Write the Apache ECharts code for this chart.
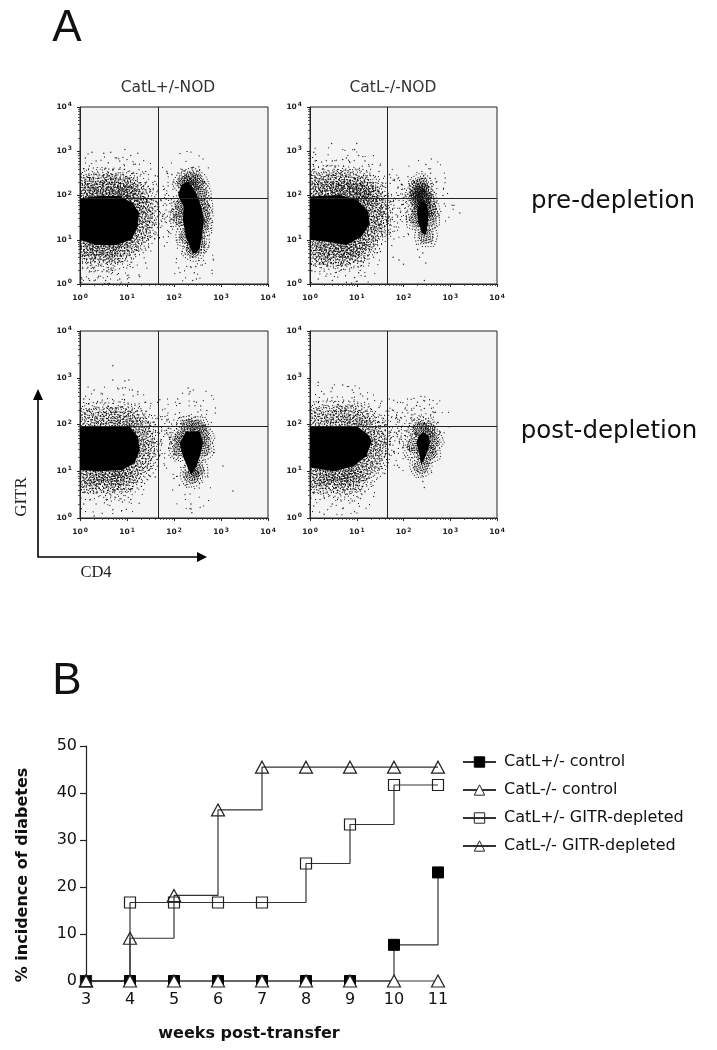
<!DOCTYPE html>
<html><head><meta charset="utf-8">
<style>html,body{margin:0;padding:0;background:#fff}#c{width:717px;height:1050px}</style>
<script src="https://cdn.jsdelivr.net/npm/echarts@6/dist/echarts.min.js"></script></head>
<body><div id="c"></div>
<script>
// ---------- Panel B values ----------
const weeks = [3,4,5,6,7,8,9,10,11];
const catLHetControl = [0,0,0,0,0,0,0,7.7,23.1];
const catLKoControl  = [0,0,0,0,0,0,0,0,0];
const catLHetDepleted = [0,16.7,16.7,16.7,16.7,25,33.3,41.7,41.7];
const catLKoDepleted  = [0,9.1,18.2,36.4,45.5,45.5,45.5,45.5,45.5];
const seriesNames = ['CatL+/- control','CatL-/- control','CatL+/- GITR-depleted','CatL-/- GITR-depleted'];
const panelTitles = ['CatL+/-NOD','CatL-/-NOD'];
const gateX = [46,46,46,46];
const gateY = [88,88,92,92];

// ---------- Panel A flow-cytometry clouds, [CD4, GITR], estimated by eye ----------
// Core: outline of the solid black area of the CD4- population. Cd4: same for the CD4+ population.
const p1Core = [[1,87],[2.6,98],[6.9,98],[13.4,67],[18,40],[17,20],[12.4,10],[5.9,7.6],[2.2,7.6],[1,10]];
const p1Cd4 = [[199,208],[299,113],[380,56],[427,28],[398,11.7],[354,6.5],[299,5],[251,5],[224,6.5],[178,11.7],[155,28],[160,56],[122,103],[144,174]];
const p1Dense = [[1.2,150],[2.2,170],[4,170],[7,160],[12,130],[1.3,100],[3,110],[6,110],[11,95],[17,70],[20,45],[22,28],[18,15],[12,10],[7,8],[4,8],[2,8],[1.2,8],[1.3,5.5],[3,5],[6,5.5]];
const p1DenseCd4 = [[170,190],[230,230],[300,200],[350,110],[380,60],[400,35],[370,20],[150,60],[140,30],[190,12],[330,9],[260,6]];
const p1Sparse = [[1.5,300],[4,280],[8,270],[15,230],[30,200],[30,70],[50,60],[80,50],[110,80],[40,30],[80,25],[30,15],[200,350],[2,3],[5,2.7],[10,3],[1.5,1.8],[4,1.6],[270,3.5],[270,2.4]];
const p1Dots = [[1.3,700],[1.8,950],[3.2,900],[4.5,950],[6,700],[9,1100],[12,800],[17,900],[2.2,600],[4,550],[7,600],[1.2,400],[14,500],[25,350],[40,280],[70,350],[90,300],[150,380],[250,430],[350,380],[450,200],[500,120],[550,60],[600,30],[600,18],[1.1,1.3],[1.6,1.2],[2.5,1.5],[3.5,1.2],[7,1.3],[11,1.4],[18,1.6],[25,3],[250,1.2],[300,1.3],[270,1.8],[290,2.5]];

const p2Core = [[1,95],[4.4,103],[10,80],[17.6,44],[19,23],[12.7,11.8],[6,7.6],[2.3,9],[1,10]];
const p2Cd4 = [[230,75],[310,65],[340,40],[330,22],[300,13],[250,14],[205,25],[195,45]];
const p2Dense = [[1.2,170],[2.2,190],[4,200],[7,180],[12,150],[17,110],[1.3,100],[3,110],[6,110],[11,100],[20,80],[24,50],[25,30],[22,18],[15,11],[9,8],[5,7],[2.5,7],[1.2,7],[1.3,5],[3,4.5],[6,5],[11,6]];
const p2DenseCd4 = [[200,110],[250,130],[200,80],[280,90],[230,170],[350,50],[340,30],[190,30],[300,12],[260,60]];
const p2Sparse = [[1.3,400],[3,450],[8,400],[15,300],[30,180],[45,90],[70,80],[100,90],[140,70],[40,40],[70,30],[120,35],[1.5,2.5],[5,2.3],[12,3],[30,15],[350,100],[450,60],[300,250]];
const p2Dots = [[1.2,950],[1.3,600],[2.9,1500],[3,600],[5,650],[6,700],[9,1100],[10,1500],[11,800],[15,600],[30,350],[50,300],[60,220],[90,180],[300,500],[350,400],[380,320],[500,200],[700,100],[1100,60],[1600,40],[60,4],[80,3.5],[100,2.8],[200,6],[220,4],[260,5],[300,3],[280,1.2],[1.5,1.3],[3,1.2],[6,1.1],[9,1.4],[11,1.8],[15,1.5],[1.1,2]];

const p3Core = [[1,88],[11.4,91],[17,55],[18.6,29],[14.6,15],[8.2,10.8],[2.6,10],[1,10.8]];
const p3Cd4 = [[182,71],[355,71],[415,40],[355,21],[299,12.6],[234,8.4],[198,11.7],[155,21],[132,40]];
const p3Dense = [[1.2,115],[2.2,125],[4,130],[7,130],[11,110],[17,80],[21,50],[22,28],[18,15],[12,10],[7,9],[4,9],[2,9],[1.2,9],[1.4,6],[4,6],[8,6]];
const p3DenseCd4 = [[150,50],[140,30],[400,55],[400,30],[300,11],[240,8],[200,90],[320,85]];
const p3Sparse = [[1.5,230],[4,250],[9,240],[15,170],[30,100],[40,60],[60,50],[90,45],[40,30],[130,120],[60,130],[300,220],[1.5,3.5],[5,3],[9,3.5],[150,20],[240,4]];
const p3Dots = [[5,1800],[5,900],[9,850],[11,900],[8,600],[13,550],[17,500],[2,550],[3,450],[1.2,350],[50,340],[25,300],[120,350],[200,600],[220,500],[210,450],[300,300],[370,250],[500,200],[480,80],[550,30],[700,25],[1100,13],[1800,3.8],[230,2],[220,1.6],[240,1.3],[2,1.1],[5,1.5],[8,2.2],[12,2.5],[40,7.5],[100,7],[130,5],[30,8],[1.2,2]];

const p4Core = [[1,91],[10,93],[17.6,60],[21,44],[16,21],[8.4,12.6],[3.2,10],[1,12]];
const p4Cd4 = [[260,68],[340,58],[370,42],[330,28],[280,18],[240,14],[215,24],[190,40],[210,56]];
const p4Dense = [[1.2,120],[2.2,135],[4,140],[7,135],[11,115],[17,80],[23,50],[24,28],[18,15],[12,11],[7,9],[4,9],[2,9],[1.2,9],[1.4,6],[4,6],[8,6]];
const p4DenseCd4 = [[230,80],[340,75],[400,45],[170,35],[350,25],[240,13]];
const p4Sparse = [[1.5,250],[4,280],[9,260],[15,170],[30,100],[40,60],[60,55],[90,60],[40,30],[60,140],[100,130],[170,140],[250,150],[380,130],[130,50],[1.5,3.5],[5,3],[9,3.5],[150,25]];
const p4Dots = [[5,700],[3,600],[8,550],[1.5,800],[12,450],[2,450],[17,350],[30,230],[60,200],[120,260],[200,300],[280,220],[450,180],[550,110],[600,70],[450,30],[260,6],[280,4.5],[250,8],[2,1.2],[5,1.6],[8,2.3],[12,2.6],[3,2],[40,9],[80,12],[1.2,1.8]];

const panels = [
  {core:p1Core,cd4:p1Cd4,dense:p1Dense,denseCd4:p1DenseCd4,sparse:p1Sparse,dots:p1Dots},
  {core:p2Core,cd4:p2Cd4,dense:p2Dense,denseCd4:p2DenseCd4,sparse:p2Sparse,dots:p2Dots},
  {core:p3Core,cd4:p3Cd4,dense:p3Dense,denseCd4:p3DenseCd4,sparse:p3Sparse,dots:p3Dots},
  {core:p4Core,cd4:p4Cd4,dense:p4Dense,denseCd4:p4DenseCd4,sparse:p4Sparse,dots:p4Dots}
];

// A stipple glyph so that one estimated cloud position draws as a patch of fine dots.
const stipple = [[50,2],[38,6],[62,5],[27,11],[47,12],[72,10],[18,19],[36,18],[56,17],[81,17],[12,28],[29,26],[44,24],[66,25],[88,27],[6,37],[22,35],[38,33],[53,31],[74,34],[93,36],[3,46],[17,44],[31,42],[46,41],[61,40],[82,43],[98,47],[0,55],[12,53],[26,52],[40,50],[55,49],[69,50],[87,54],[100,57],[5,63],[19,61],[34,60],[48,58],[63,59],[77,60],[94,65],[10,71],[25,69],[42,67],[57,68],[71,69],[86,73],[16,79],[33,77],[50,76],[65,77],[79,81],[24,87],[41,85],[58,86],[70,89],[36,93],[52,95],[47,100]];
const glyph = (pts,s) => pts.map(p => `M${p[0]} ${p[1]}h${s}v${s}h${-s}z`).join('');
const everyThird = stipple.filter((_,i)=>i%3===0);

const grids = [
  {left:80,top:107,width:188,height:177},
  {left:310,top:107,width:187,height:177},
  {left:80,top:331,width:188,height:187},
  {left:310,top:331,width:187,height:187},
  {left:86,top:746,width:352,height:235}
];
const logAxis = (i,pos) => ({
  type:'log',logBase:10,min:1,max:10000,gridIndex:i,position:pos,
  axisLine:{show:true,onZero:false,lineStyle:{color:'#222',width:1}},
  axisTick:{show:true,length:3,lineStyle:{color:'#222',width:1}},
  minorTick:{show:true,splitNumber:9,length:2,lineStyle:{color:'#333',width:.8}},
  splitLine:{show:false},minorSplitLine:{show:false},
  axisLabel:{margin:pos==='bottom'?9:8,color:'#222',fontFamily:'DejaVu Sans',fontSize:7.5,fontWeight:'bold',hideOverlap:false,showMinLabel:true,showMaxLabel:true,
    formatter:v=>`10{s|${Math.round(Math.log10(v))}}`,
    rich:{s:{fontSize:6,fontWeight:'bold',fontFamily:'DejaVu Sans',color:'#222',padding:[0,0,5,1]}}}
});

const stippleSeries = (i,name,data,pts,size,turn) => {
  const pathData = glyph(pts,100/size);
  return {type:'custom',name,xAxisIndex:i,yAxisIndex:i,clip:true,silent:true,data,encode:{x:0,y:1},
    renderItem:(params,api)=>{
      const c = api.coord([api.value(0),api.value(1)]);
      return {type:'path',x:c[0],y:c[1],rotation:params.dataIndex*turn,
        shape:{pathData,x:-size/2,y:-size/2,width:size,height:size},style:{fill:'#000'}};
    }};
};
const outlineSeries = (i,name,data) => ({type:'custom',name,xAxisIndex:i,yAxisIndex:i,clip:true,silent:true,data,encode:{x:0,y:1},
  renderItem:(params,api)=>{
    if(params.dataIndex!==0) return null;
    return {type:'polygon',shape:{points:data.map(d=>api.coord(d))},style:{fill:'#000'}};
  }});

const series = [];
panels.forEach((p,i)=>{
  series.push(stippleSeries(i,`cloud${i}s`,p.sparse,everyThird,42,0.93));
  series.push(stippleSeries(i,`cloud${i}a`,p.dense,stipple,40,1.17));
  series.push(stippleSeries(i,`cloud${i}b`,p.dense,stipple,26,2.31));
  series.push(stippleSeries(i,`cd4patch${i}a`,p.denseCd4,stipple,26,1.47));
  series.push(stippleSeries(i,`cd4patch${i}b`,p.denseCd4,stipple,16,0.71));
  series.push(outlineSeries(i,`core${i}`,p.core));
  series.push(outlineSeries(i,`cd4${i}`,p.cd4));
  series.push({type:'scatter',name:`dots${i}`,xAxisIndex:i,yAxisIndex:i,silent:true,z:3,data:p.dots,symbol:'circle',symbolSize:1.5,
    itemStyle:{color:'#000'},
    markLine:{silent:true,symbol:'none',animation:false,label:{show:false},lineStyle:{color:'#222',width:1,type:'solid'},
      data:[{xAxis:gateX[i]},{yAxis:gateY[i]}]}});
});
const lineBase = {type:'line',xAxisIndex:4,yAxisIndex:4,step:'end',clip:false,silent:true,
  lineStyle:{color:'#333',width:1.2}};
const pairs = v => weeks.map((w,i)=>[w,v[i]]);
const hollow = {color:'rgba(255,255,255,0)',borderColor:'#222',borderWidth:1.2};
series.push({...lineBase,name:seriesNames[0],data:pairs(catLHetControl),symbol:'rect',symbolSize:11,itemStyle:{color:'#000',borderColor:'#000'}});
series.push({...lineBase,name:seriesNames[1],data:pairs(catLKoControl),symbol:'triangle',symbolSize:[13,12],itemStyle:{...hollow,color:'#fff'}});
series.push({...lineBase,name:seriesNames[2],data:pairs(catLHetDepleted),symbol:'rect',symbolSize:11,itemStyle:hollow});
series.push({...lineBase,name:seriesNames[3],data:pairs(catLKoDepleted),symbol:'triangle',symbolSize:[13,12],itemStyle:hollow});

const xAxes = [0,1,2,3].map(i=>logAxis(i,'bottom'));
const yAxes = [0,1,2,3].map(i=>logAxis(i,'left'));
xAxes.push({type:'value',gridIndex:4,min:3,max:11,interval:1,
  axisLine:{show:false},axisTick:{show:false},splitLine:{show:false},
  axisLabel:{margin:11,color:'#111',fontFamily:'DejaVu Sans',fontSize:16}});
yAxes.push({type:'value',gridIndex:4,min:0,max:50,interval:10,
  axisLine:{show:true,lineStyle:{color:'#222',width:1.2}},axisTick:{show:true,length:6,lineStyle:{color:'#222',width:1.2}},splitLine:{show:false},
  axisLabel:{margin:9,color:'#111',fontFamily:'DejaVu Sans',fontSize:16}});

const txt = (text,x,y,size,extra={}) => ({type:'text',x,y,silent:true,style:{text,fontSize:size,fontFamily:'DejaVu Sans',fill:'#222',textAlign:'center',textVerticalAlign:'middle',...extra}});
const graphic = [
  txt('A',67,29,44,{fontFamily:'Liberation Sans',fill:'#111'}),
  txt('B',67,682,44,{fontFamily:'Liberation Sans',fill:'#111'}),
  txt(panelTitles[0],168,88,15.5,{fill:'#333'}),
  txt(panelTitles[1],393,88,15.5,{fill:'#333'}),
  txt('pre-depletion',613,202,24.5,{fill:'#111'}),
  txt('post-depletion',609,432,24.5,{fill:'#111'}),
  {...txt('GITR',22,497,17,{fontFamily:'Liberation Serif',fill:'#222'}),rotation:Math.PI/2},
  txt('CD4',96,573,16.5,{fontFamily:'Liberation Serif',fill:'#222'}),
  {...txt('% incidence of diabetes',23,875,16,{fontWeight:'bold',fill:'#111'}),rotation:Math.PI/2},
  txt('weeks post-transfer',249,1034,16,{fontWeight:'bold',fill:'#111'}),
  {type:'polyline',silent:true,shape:{points:[[38,392],[38,557],[204,557]]},style:{stroke:'#000',lineWidth:1.6,fill:'none'}},
  {type:'polygon',silent:true,shape:{points:[[38,389],[33,400],[43,400]]},style:{fill:'#000'}},
  {type:'polygon',silent:true,shape:{points:[[207,557],[197,552],[197,562]]},style:{fill:'#000'}}
];

const chart = echarts.init(document.getElementById('c'),null,{renderer:'canvas'});
chart.setOption({
  animation:false,backgroundColor:'#fff',
  grid:grids.map((g,i)=>({...g,show:i<4,backgroundColor:'#f4f4f4',borderColor:'#222',borderWidth:1,containLabel:false})),
  xAxis:xAxes,yAxis:yAxes,series,graphic,
  legend:{data:seriesNames,orient:'vertical',left:462,top:754,padding:0,itemWidth:33,itemHeight:13,itemGap:12,selectedMode:false,
    itemStyle:{borderWidth:1},
    textStyle:{fontFamily:'DejaVu Sans',fontSize:16,color:'#111',padding:[0,0,0,3]}}
});
</script></body></html>
